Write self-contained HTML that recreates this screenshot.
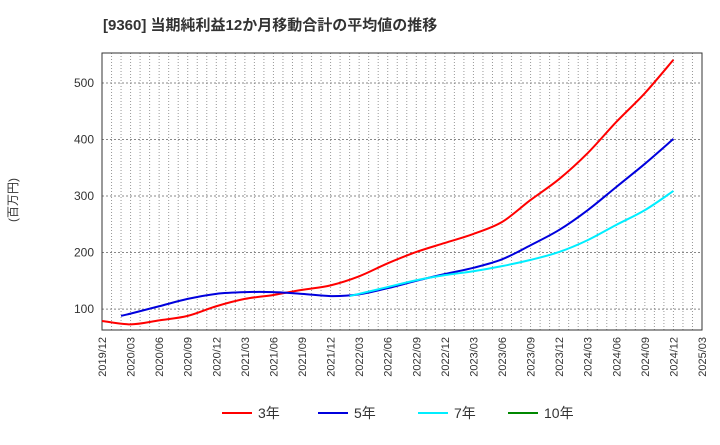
<!DOCTYPE html>
<html><head><meta charset="utf-8"><style>
body{margin:0;background:#fff;font-family:"Liberation Sans","Noto Sans CJK JP",sans-serif;}
</style></head><body>
<svg width="720" height="440" xmlns="http://www.w3.org/2000/svg" font-family="Liberation Sans, Noto Sans CJK JP, sans-serif">
<text x="103" y="30" font-size="15" font-weight="bold" fill="#333">[9360]  当期純利益12か月移動合計の平均値の推移</text>
<text transform="translate(17,200) rotate(-90)" font-size="12" text-anchor="middle" fill="#333">(百万円)</text>
<g id="grid"></g><g id="axes"></g><g id="series"></g>
<g font-size="14" fill="#333">
<line x1="222" y1="413" x2="252" y2="413" stroke="#ff0000" stroke-width="2"/><text x="258" y="418">3年</text>
<line x1="318" y1="413" x2="348" y2="413" stroke="#0000dd" stroke-width="2"/><text x="354" y="418">5年</text>
<line x1="418" y1="413" x2="448" y2="413" stroke="#00eeff" stroke-width="2"/><text x="454" y="418">7年</text>
<line x1="508" y1="413" x2="538" y2="413" stroke="#008800" stroke-width="2"/><text x="544" y="418">10年</text>
</g>
</svg>
<script>
const xLabels=["2019/12","2020/03","2020/06","2020/09","2020/12","2021/03","2021/06","2021/09","2021/12","2022/03","2022/06","2022/09","2022/12","2023/03","2023/06","2023/09","2023/12","2024/03","2024/06","2024/09","2024/12","2025/03"];
const yTicks=[100,200,300,400,500];
// first value of each series is at the start month; remaining values are quarterly
const s3=[79,73,80,88,105,118,125,134,142,158,181,201,217,233,254,293,330,376,431,482,541];
const s5=[88,92,105,118,127,130,130,127,123,126,137,150,162,173,188,213,240,275,316,357,401];
const s7=[123,127,139,151,160,167,176,187,201,222,249,275,309];
const s10=[];
const L=102,R=702,T=53,B=330,yMin=63,yMax=553;
const X=q=>L+(R-L)*q/21;
const Y=v=>B-(v-yMin)/(yMax-yMin)*(B-T);
const NS="http://www.w3.org/2000/svg";
function mk(t,a,p){const e=document.createElementNS(NS,t);for(const k in a)e.setAttribute(k,a[k]);p.appendChild(e);return e;}
const grid=document.getElementById('grid'),axes=document.getElementById('axes'),ser=document.getElementById('series');
for(let m=1;m<63;m++){const gl=mk('line',{x1:X(m/3),x2:X(m/3),y1:T,y2:B,stroke:'#999','stroke-dasharray':'1,2','stroke-width':1},grid);

}
yTicks.forEach(v=>{const gl=mk('line',{x1:L,x2:R,y1:Y(v),y2:Y(v),stroke:'#888','stroke-dasharray':'2,2','stroke-width':1},grid);


const t=mk('text',{x:L-8,y:Y(v)+4,'font-size':12,'text-anchor':'end',fill:'#333'},axes);t.textContent=v;

});
const fr=mk('rect',{x:L,y:T,width:R-L,height:B-T,fill:'none',stroke:'#333','stroke-width':1},axes);


xLabels.forEach((s,i)=>{const t=mk('text',{transform:`translate(${X(i)+4},337) rotate(-90)`,'font-size':11,'text-anchor':'end',fill:'#333'},axes);t.textContent=s;

});
// startQ: quarter index of first value; firstQ: quarter index of second value (quarterly afterwards)
function path(arr,startQ,secondQ){const p=arr.map((v,i)=>[X(i===0?startQ:secondQ+i-1),Y(v)]);if(p.length<2)return '';let d=`M${p[0][0]},${p[0][1]}`;
for(let i=0;i<p.length-1;i++){const p0=p[i-1]||p[i],p1=p[i],p2=p[i+1],p3=p[i+2]||p2;
d+=`C${p1[0]+(p2[0]-p0[0])/6},${p1[1]+(p2[1]-p0[1])/6} ${p2[0]-(p3[0]-p1[0])/6},${p2[1]-(p3[1]-p1[1])/6} ${p2[0]},${p2[1]}`;}return d;}
[[s3,0,1,'#ff0000','line-3yr'],[s5,2/3,1,'#0000dd','line-5yr'],[s7,26/3,9,'#00eeff','line-7yr'],[s10,0,1,'#008800','line-10yr']].forEach(([a,st,sq,c,n])=>{
if(!a.length)return;const e=mk('path',{d:path(a,st,sq),fill:'none',stroke:c,'stroke-width':2},ser);

});
</script>
</body></html>
